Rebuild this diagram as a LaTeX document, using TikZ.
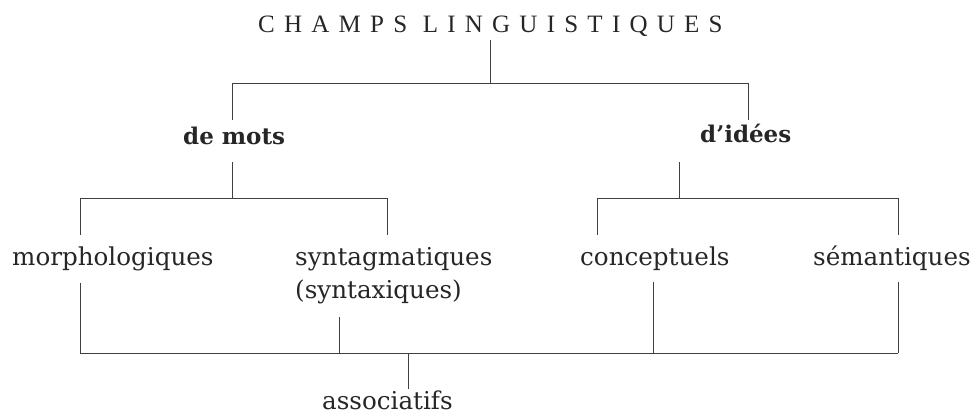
\documentclass[tikz,border=0pt]{standalone}
\usepackage{fontspec}
\setmainfont{DejaVu Serif}
\newfontfamily\titlefont[LetterSpace=37]{Liberation Serif}
\tikzset{
  lbl/.style={inner sep=0pt, anchor=base west, font=\fontsize{24.6}{28}\selectfont, text=black!85},
  bld/.style={lbl, font=\fontsize{23}{28}\selectfont\bfseries},
  ln/.style={draw=black!75, line width=0.8pt},
}
\begin{document}
\begin{tikzpicture}[x=1pt,y=-1pt]
\useasboundingbox (0,0) rectangle (971,414);
% texts
\node[lbl, font=\titlefont\fontsize{25}{30}\selectfont] (title) at (258,33) {CHAMPS LINGUISTIQUES};
\node[bld] (mots) at (183,145) {de mots};
\node[bld] (idees) at (700,143) {d’idées};
\node[lbl] (morph) at (12,265) {morphologiques};
\node[lbl] (synt) at (295,265) {syntagmatiques};
\node[lbl] (syntx) at (295,298) {(syntaxiques)};
\node[lbl] (conc) at (580,265) {conceptuels};
\node[lbl] (sem) at (813,265) {sémantiques};
\node[lbl, text depth=0pt] (assoc) at (322,409) {associatifs};
% junction coordinates
\coordinate (t0) at (490,83);
\coordinate (tl) at (232,83);
\coordinate (tr) at (748,83);
\coordinate (ml) at (80,198);
\coordinate (mc) at (232,198);
\coordinate (mr) at (387,198);
\coordinate (il) at (597,198);
\coordinate (ic) at (679,198);
\coordinate (ir) at (898,198);
\coordinate (b1) at (80,353);
\coordinate (b2) at (339,353);
\coordinate (b3) at (653,353);
\coordinate (b4) at (898,353);
\coordinate (ba) at (408,353);
% connectors
\draw[ln] (title.base -| t0) ++(0,7) -- (t0);
\draw[ln] (tl) -- (tr);
\draw[ln] (tl) -- ++(0,37);
\draw[ln] (tr) -- ++(0,37);
\draw[ln] (mc) -- ++(0,-36);
\draw[ln] (ml) -- (mr);
\draw[ln] (ml) -- ++(0,37);
\draw[ln] (mr) -- ++(0,37);
\draw[ln] (ic) -- ++(0,-36);
\draw[ln] (il) -- (ir);
\draw[ln] (il) -- ++(0,37);
\draw[ln] (ir) -- ++(0,37);
\draw[ln] (b1) -- (b4);
\draw[ln] (b1) -- ++(0,-70);
\draw[ln] (b2) -- ++(0,-36);
\draw[ln] (b3) -- ++(0,-71);
\draw[ln] (b4) -- ++(0,-71);
\draw[ln] (ba) -- ++(0,36);
\end{tikzpicture}
\end{document}
